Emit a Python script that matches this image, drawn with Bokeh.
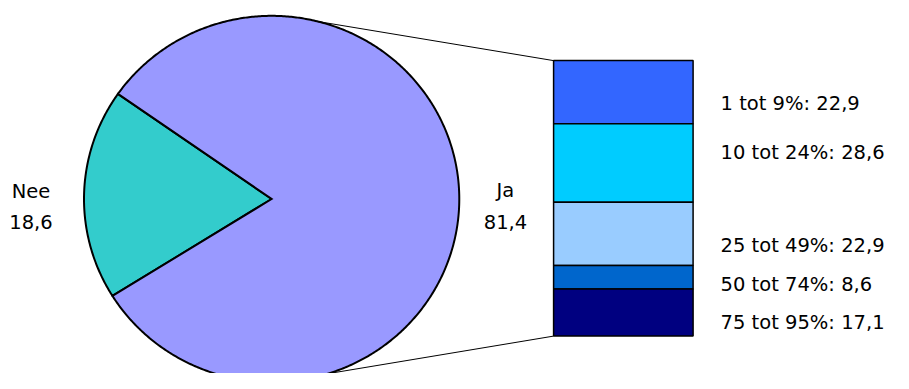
import math
from bokeh.plotting import figure
from bokeh.models import Range1d
from bokeh.core.properties import value
from bokeh.embed import file_html
from bokeh.resources import INLINE

# ---- data ----
pie_labels = ["Nee", "Ja"]
pie_values = [18.6, 81.4]
pie_value_text = ["18,6", "81,4"]
pie_colors = ["#33CCCC", "#9999FF"]

bar_labels = ["1 tot 9%", "10 tot 24%", "25 tot 49%", "50 tot 74%", "75 tot 95%"]
bar_values = [22.9, 28.6, 22.9, 8.6, 17.1]
bar_value_text = ["22,9", "28,6", "22,9", "8,6", "17,1"]
bar_colors = ["#3366FF", "#00CCFF", "#99CCFF", "#0066CC", "#000080"]

# ---- layout (in reference-image pixel units) ----
REF_W, REF_H = 909, 389
W, H = 893, 373
def sy(s):
    return REF_H - s

cx, cy, R = 276, sy(207), 191
nee_start_deg = 145.0
conn_top_deg, conn_bot_deg = 75.7, -72.5
bar_left, bar_right = 563, 705
bar_top, bar_bottom = sy(62.7), sy(350)
bar_label_x = 733
bar_label_base = [107, 158, 255, 296.5, 336]
FONT = "DejaVu Sans"
FS = "19.5px"

p = figure(width=W, height=H, output_backend="svg", toolbar_location=None,
           x_range=Range1d(0, REF_W), y_range=Range1d(0, REF_H),
           min_border=0, outline_line_color=None)
p.xaxis.visible = False
p.yaxis.visible = False
p.grid.visible = False
p.background_fill_color = "white"
p.border_fill_color = "white"

# ---- pie (as polygons in data space) ----
total = sum(pie_values)
xs, ys = [], []
a = nee_start_deg
for v in pie_values:
    span = v / total * 360.0
    n = max(8, int(span * 2))
    px = [cx]
    py = [cy]
    for i in range(n + 1):
        t = math.radians(a + span * i / n)
        px.append(cx + R * math.cos(t))
        py.append(cy + R * math.sin(t))
    xs.append(px)
    ys.append(py)
    a += span
p.patches(xs=xs, ys=ys, fill_color=pie_colors, line_color="black",
          line_width=2, line_join="miter")

# ---- connectors ----
for ang, by in ((conn_top_deg, bar_top), (conn_bot_deg, bar_bottom)):
    px = cx + R * math.cos(math.radians(ang))
    py = cy + R * math.sin(math.radians(ang))
    p.line([px, bar_left], [py, by], line_color="black", line_width=1)

# ---- stacked bar ----
bar_total = sum(bar_values)
scale = (bar_top - bar_bottom) / bar_total
tops, bottoms = [], []
t = bar_top
for v in bar_values:
    tops.append(t)
    bottoms.append(t - v * scale)
    t -= v * scale
p.quad(left=[bar_left] * len(bar_values), right=[bar_right] * len(bar_values),
       top=tops, bottom=bottoms, fill_color=bar_colors,
       line_color="black", line_width=1.5)

# ---- labels ----
p.text(x=[31, 31], y=[sy(199), sy(231.5)], text=[pie_labels[0], pie_value_text[0]],
       text_font=value(FONT), text_font_size=FS, text_align="center",
       text_baseline="alphabetic", text_color="black")
p.text(x=[514, 514], y=[sy(198), sy(231)], text=[pie_labels[1], pie_value_text[1]],
       text_font=value(FONT), text_font_size=FS, text_align="center",
       text_baseline="alphabetic", text_color="black")
p.text(x=[bar_label_x] * len(bar_labels), y=[sy(b) for b in bar_label_base],
       text=[f"{l}: {v}" for l, v in zip(bar_labels, bar_value_text)],
       text_font=value(FONT), text_font_size=FS, text_align="left",
       text_baseline="alphabetic", text_color="black")

open("out.html", "w").write(file_html(p, INLINE))
